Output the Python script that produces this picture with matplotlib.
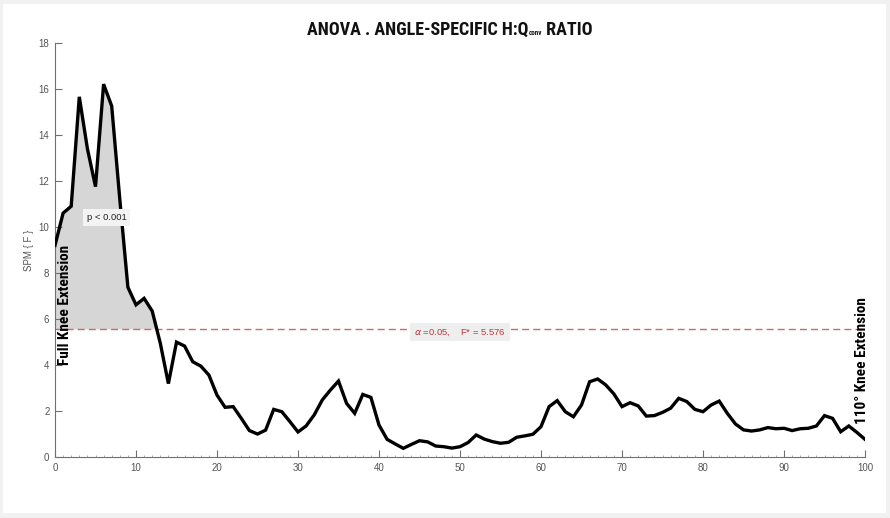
import matplotlib
matplotlib.use("Agg")
import matplotlib.pyplot as plt
import numpy as np
from matplotlib import font_manager
from matplotlib.offsetbox import TextArea, HPacker, AnnotationBbox
from matplotlib.patches import Rectangle

# SPM{F} trajectory, 0-100 % of the knee range
x = np.arange(0, 101)
spm_f = [
    9.2, 10.6, 10.9, 15.65, 13.4, 11.75, 16.2, 15.25, 11.2, 7.38,
    6.62, 6.9, 6.35, 4.95, 3.2, 5.0, 4.83, 4.15, 3.96, 3.57,
    2.7, 2.17, 2.2, 1.69, 1.16, 1.01, 1.18, 2.08, 1.98, 1.55,
    1.1, 1.36, 1.84, 2.49, 2.92, 3.31, 2.34, 1.91, 2.73, 2.6,
    1.4, 0.78, 0.58, 0.39, 0.56, 0.72, 0.67, 0.49, 0.46, 0.4,
    0.46, 0.64, 0.97, 0.79, 0.68, 0.61, 0.65, 0.87, 0.93, 1.0,
    1.33, 2.2, 2.46, 1.98, 1.76, 2.27, 3.28, 3.4, 3.14, 2.75,
    2.2, 2.37, 2.23, 1.79, 1.81, 1.95, 2.13, 2.56, 2.42, 2.08,
    1.98, 2.27, 2.44, 1.91, 1.45, 1.19, 1.14, 1.19, 1.29, 1.24,
    1.26, 1.16, 1.24, 1.26, 1.36, 1.81, 1.69, 1.11, 1.36, 1.08,
    0.78,
]
f_crit = 5.576
alpha = 0.05

installed = {f.name for f in font_manager.fontManager.ttflist}
narrow = "DejaVu Sans"
for name in ["Liberation Sans Narrow", "Roboto Condensed", "Open Sans Condensed",
             "DejaVu Sans Condensed", "Noto Sans Condensed"]:
    if name in installed:
        narrow = name
        break
plain = "Liberation Sans" if "Liberation Sans" in installed else "DejaVu Sans"

plt.rcParams['font.family'] = [plain, 'DejaVu Sans']

fig = plt.figure(figsize=(8.9, 5.18), dpi=100, facecolor='#f1f1f1')
# white card behind everything
fig.patches.append(Rectangle((3 / 890, 1 - 513 / 518), 883 / 890, 509 / 518,
                             transform=fig.transFigure, facecolor='white',
                             edgecolor='none', zorder=-10))
ax = fig.add_axes([55 / 890, 1 - 457.3 / 518, 810 / 890, 414.6 / 518])
ax.set_facecolor('none')

y = np.array(spm_f)
ax.fill_between(x, y, f_crit, where=y > f_crit, interpolate=True,
                color='#d6d6d6', lw=0, zorder=1)
ax.axhline(f_crit, color='#d0676a', lw=1.0, dashes=(5, 3), zorder=2)
ax.plot(x, y, color='black', lw=2.4, zorder=3, solid_joinstyle='miter')

ax.set_xlim(0, 100)
ax.set_ylim(0, 18)
ax.set_xticks(np.arange(0, 101, 10))
ax.set_yticks(np.arange(0, 19, 2))
ax.set_xticks(np.arange(0, 101, 1), minor=True)
ax.tick_params(axis='both', which='major', direction='in', length=5, width=0.8,
               color='#707070', labelcolor='#555555', labelsize=7, pad=4)
ax.tick_params(axis='x', which='minor', direction='in', length=1.5, width=0.5,
               color='#909090')
ax.tick_params(axis='y', which='minor', left=False)
for side in ['top', 'right']:
    ax.spines[side].set_visible(False)
for side in ['left', 'bottom']:
    ax.spines[side].set_color('#707070')
    ax.spines[side].set_linewidth(0.8)

ax.set_ylabel('SPM { F }', fontsize=7, color='#555555', labelpad=3)

ax.text(50, f_crit - 0.15, r'$\alpha$ =0.05,    F* = 5.576', fontsize=6.8,
        color='#c0393b', ha='center', va='center', zorder=4,
        bbox=dict(boxstyle='square,pad=0.4', facecolor='#eeeeee', edgecolor='none'))
ax.text(6.4, 10.4, 'p < 0.001', fontsize=6.8, color='#222222', ha='center',
        va='center', zorder=4,
        bbox=dict(boxstyle='square,pad=0.4', facecolor='#f3f3f3', edgecolor='none'))

ax.text(1.25, 6.6, 'Full Knee Extension', rotation=90, fontsize=11,
        fontweight='bold', family=narrow, ha='center', va='center', zorder=4)
ax.text(99.6, 4.2, '110° Knee Extension', rotation=90, fontsize=11,
        fontweight='bold', family=narrow, ha='center', va='center', zorder=4)

# title with the small "conv" subscript
big = dict(fontsize=13, fontweight='bold', family=narrow, color='#111111')
small = dict(fontsize=5, fontweight='bold', family=narrow, color='#111111')
title_box = HPacker(children=[TextArea('ANOVA . ANGLE-SPECIFIC H:Q', textprops=big),
                              TextArea('conv', textprops=small),
                              TextArea(' RATIO', textprops=big)],
                    align='baseline', pad=0, sep=0)
fig.add_artist(AnnotationBbox(title_box, (450 / 890, 1 - 30 / 518),
                              xycoords='figure fraction', frameon=False,
                              box_alignment=(0.5, 0.5)))

fig.savefig('out.png', dpi=100, facecolor=fig.get_facecolor())
